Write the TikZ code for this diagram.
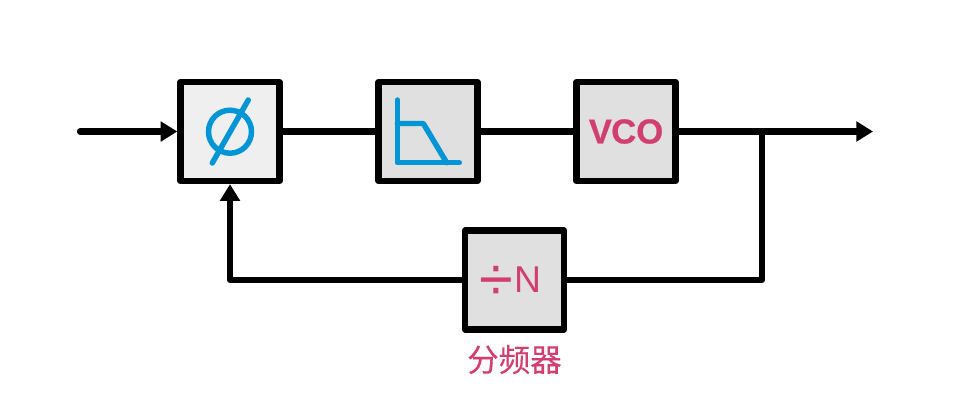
\documentclass[tikz,border=0pt]{standalone}
\usepackage{fontspec}
\setmainfont{Liberation Sans}
\newfontfamily\cjk[FakeBold=0.2]{Noto Sans CJK SC}
\newfontfamily\vcofont[FakeBold=0.5]{Liberation Sans Bold}
\usetikzlibrary{arrows.meta}
\definecolor{pinktxt}{HTML}{D13F70}
\definecolor{bluesym}{HTML}{0096D6}
\definecolor{boxgrey}{HTML}{E0E0E0}
\definecolor{boxlight}{HTML}{EFEFEF}
\tikzset{
  x=0.75pt,y=-0.75pt,
  blockbox/.style={draw=black,line width=4.8pt,line join=round,fill=boxgrey,minimum size=74.25pt,inner sep=0pt,outer sep=2.4pt,text=pinktxt},
  wire/.style={draw=black,line width=4.6pt,line cap=round,line join=round},
  arrowwire/.style={wire,-{Triangle[length=12.5pt,width=14.5pt]}},
  symline/.style={draw=bluesym,line width=4.1pt,line cap=round,line join=round}
}
\begin{document}
\begin{tikzpicture}
\useasboundingbox (0,0) rectangle (962,405);
\fill[white] (0,0) rectangle (962,405);
\node[blockbox,fill=boxlight] (pd) at (230,131.5) {};
\node[blockbox] (lpf) at (428,131.5) {};
\node[blockbox] (vco) at (626,131.5) {\fontsize{26pt}{26pt}\vcofont V\kern-0.5pt CO};
\node[blockbox] (div) at (514.5,280) {\fontsize{46pt}{46pt}\selectfont\smash{\raisebox{-5.6pt}{÷}}\hspace{0.5pt}\fontsize{28pt}{28pt}\selectfont N\kern6pt};
\node[text=pinktxt,inner sep=0pt] (lbl) at (514.5,359.5) {\cjk\fontsize{23.6pt}{24pt}\selectfont 分频器};
\coordinate (in) at (80,131.5);
\coordinate (out) at (873,131.5);
\coordinate (jn) at (762,131.5);
\draw[arrowwire] (in) -- (pd.west);
\draw[wire] (pd.east) -- (lpf.west);
\draw[wire] (lpf.east) -- (vco.west);
\draw[arrowwire] (vco.east) -- (out);
\draw[wire] (jn) |- (div.east);
\draw[arrowwire] (div.west) -| (pd.south);
% phase symbol
\draw[symline] (230,131.7) circle (21.5);
\draw[symline] (212.3,163) -- (248.3,100);
% low-pass symbol
\draw[symline] (397.3,100) -- (397.3,162.7) -- (459.3,162.7);
\draw[symline] (397.3,123.5) -- (423.3,123.5) -- (446.7,162.7);
\end{tikzpicture}
\end{document}
